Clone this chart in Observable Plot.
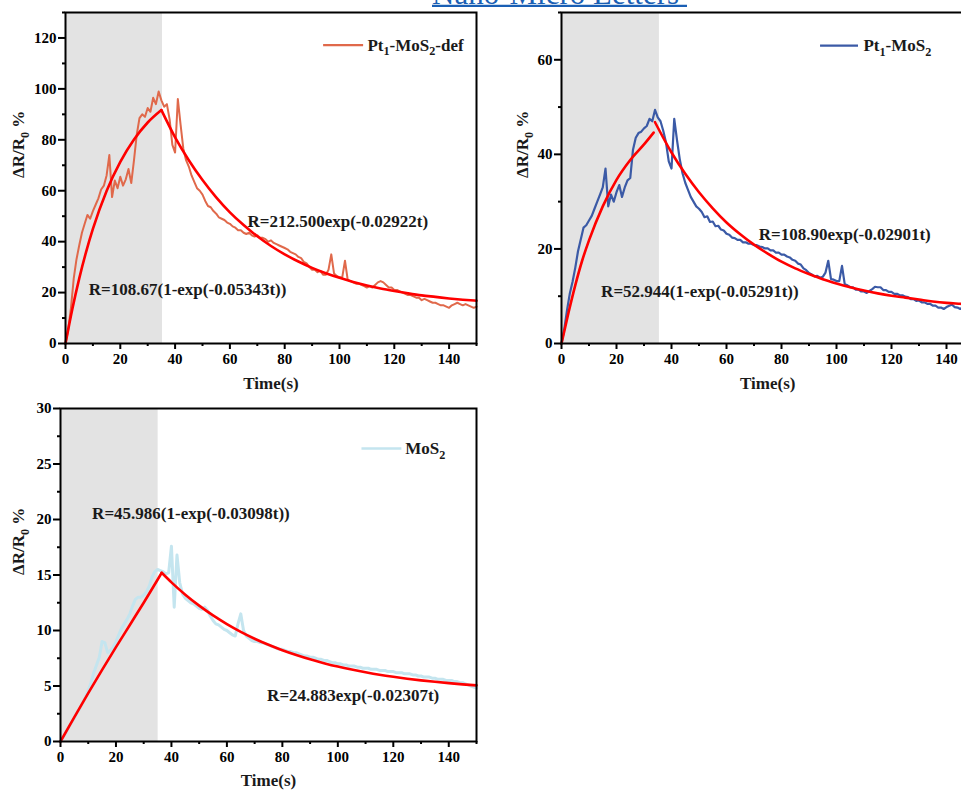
<!DOCTYPE html>
<html><head><meta charset="utf-8">
<script src="https://cdn.jsdelivr.net/npm/d3@7"></script>
<script src="https://cdn.jsdelivr.net/npm/@observablehq/plot@0.6"></script>
<style>
html,body{margin:0;padding:0;background:#fff;}
body{width:961px;height:793px;overflow:hidden;position:relative;}
.panel{position:absolute;}
.panel svg{max-width:none !important;}
#title{position:absolute;left:0;top:0;}
</style></head><body>
<div id="p1" class="panel" style="left:0;top:0;width:480px"></div>
<div id="p2" class="panel" style="left:480px;top:0;width:500px"></div>
<div id="p3" class="panel" style="left:0;top:396px;width:480px"></div>
<svg id="title" width="961" height="12">
  <text x="432" y="3.5" font-family="'Liberation Serif', serif" font-size="31" fill="#1a5fb4">Nano-Micro Letters</text>
  <line x1="432" x2="687" y1="5.8" y2="5.8" stroke="#1a5fb4" stroke-width="2.2"/>
</svg>
<script>
// ---------- data ----------
const seconds = d3.range(0, 151); // sampling times (s)

const xMajorTicks = [0, 20, 40, 60, 80, 100, 120, 140];
const xMinorTicks = [10, 30, 50, 70, 90, 110, 130, 150];

const yTicksDef = [0, 20, 40, 60, 80, 100, 120];
const yMinorDef = [10, 30, 50, 70, 90, 110, 130];
const yTicksPt = [0, 20, 40, 60];
const yMinorPt = [10, 30, 50, 70];
const yTicksMoS2 = [0, 5, 10, 15, 20, 25, 30];
const yMinorMoS2 = [2.5, 7.5, 12.5, 17.5, 22.5, 27.5];

const seriesNames = ["Pt_1-MoS_2-def", "Pt_1-MoS_2", "MoS_2"];
const lightOnEnd = [35.4, 35.6, 35.2];

// measured response, one value per second (0..150 s)
const pt1MoS2DefSignal = [
  0, 5.5, 14, 25.5, 33, 38.5, 43.5, 47, 50.5, 49, 52,
  54.5, 57, 60.5, 62, 66, 74, 57.5, 64, 61, 65.5,
  62, 64.5, 68.5, 63, 72, 82, 88.5, 90, 89, 92.5,
  91, 96.5, 94, 99, 95.5, 93, 94, 88, 78, 75,
  96, 86, 76.5, 72, 69.5, 66, 63.5, 61, 60, 58.5,
  56, 54, 53.5, 52, 51, 49.5, 49, 48.5, 47.5, 47,
  46, 45.5, 44.5, 44.5, 43.5, 43, 43.5, 42.5, 42, 42.5,
  41.5, 41.5, 41, 40, 40.5, 39.5, 39, 38.5, 38, 37.5,
  37, 36, 35.5, 35, 34, 33.5, 32, 31.5, 30, 29,
  29, 28, 28.5, 27, 27, 29, 35, 27.5, 26.5, 26,
  26, 32.5, 25, 24.5, 24, 23.5, 23.5, 23, 22.5, 22,
  22.5, 22, 23, 24, 24.5, 24, 23, 22, 22, 21,
  21, 20.5, 20, 19.5, 19, 19, 18.5, 18, 18, 17,
  17.5, 17, 16.5, 16, 16, 15.5, 15, 15, 14.5, 14,
  15, 15.5, 16, 15.5, 15, 15.5, 15, 14.5, 14, 14.5
];
const pt1MoS2Signal = [
  0, 3, 7, 10.5, 13, 16, 19.5, 22, 24.5, 25, 26,
  27, 28.5, 30, 31.5, 33, 37, 29, 31.5, 30, 32,
  33.5, 31, 33, 34.5, 35, 41, 43.5, 44.5, 44.8, 45.5,
  46, 47.5, 47, 49.4, 47.8, 47, 45, 42.5, 38.5, 37,
  47.5, 43, 39, 36, 34, 32.5, 31, 30, 29, 28.5,
  27.8, 26.7, 26.9, 25.7, 25.8, 24.8, 24.9, 24.1, 23.9, 23.2,
  23, 22.4, 22.3, 21.9, 21.9, 21.4, 21.4, 21.1, 21.1, 20.8,
  20.8, 20.5, 20.4, 20.1, 20.1, 19.7, 19.7, 19.2, 19.2, 18.8,
  18.8, 18.4, 18.2, 17.7, 17.5, 16.9, 16.7, 15.9, 15.5, 14.9,
  14.6, 14.2, 14.3, 13.9, 14.1, 15, 17.5, 13.6, 13.5, 13.2,
  13.2, 16.4, 12.5, 12.3, 11.9, 11.9, 11.4, 11.4, 11, 11,
  10.7, 11.1, 11.5, 12, 11.9, 11.9, 11.3, 11.3, 10.9, 10.9,
  10.5, 10.5, 10.2, 10.2, 9.9, 9.8, 9.4, 9.4, 9, 9.1,
  8.7, 8.7, 8.4, 8.4, 8, 8, 7.6, 7.6, 7.3, 7.7,
  8, 8.2, 7.7, 7.6, 7.3, 7.6, 7.2, 7.3, 7, 7.1
];
const mos2Signal = [
  0, 0.4, 0.8, 1.3, 1.7, 2.1, 2.6, 3.0, 3.5, 4.0, 4.6,
  5.3, 6.2, 6.9, 7.6, 9.0, 8.9, 8.0, 8.2, 8.5, 9.0,
  9.6, 10.2, 10.6, 11.0, 11.5, 12.2, 12.8, 13.0, 13.0, 13.2,
  13.5, 14.0, 14.8, 15.3, 15.5, 15.4, 15.3, 15.1, 15.2, 17.6,
  12.1, 16.8, 14.3, 13.3, 12.9, 12.7, 12.5, 12.4, 12.2, 12.0,
  11.9, 12.1, 11.8, 11.3, 10.9, 10.6, 10.5, 10.3, 10.1, 10.0,
  9.8, 9.6, 9.5, 10.6, 11.5, 10.0, 9.5, 9.3, 9.1, 9.0,
  9.0, 8.9, 8.9, 8.8, 8.7, 8.6, 8.5, 8.4, 8.3, 8.3,
  8.2, 8.1, 8.1, 8.0, 8.0, 7.9, 7.8, 7.7, 7.7, 7.6,
  7.6, 7.5, 7.4, 7.4, 7.3, 7.3, 7.2, 7.1, 7.1, 7.0,
  7.0, 6.9, 6.9, 6.8, 6.8, 6.8, 6.7, 6.7, 6.6, 6.6,
  6.6, 6.5, 6.5, 6.5, 6.4, 6.4, 6.4, 6.3, 6.3, 6.3,
  6.2, 6.2, 6.2, 6.1, 6.1, 6.1, 6.0, 6.0, 5.9, 5.9,
  5.8, 5.8, 5.8, 5.7, 5.7, 5.6, 5.6, 5.6, 5.5, 5.5,
  5.5, 5.4, 5.4, 5.3, 5.3, 5.2, 5.1, 5.0, 4.9, 4.8
];

// fitted curves
const fitRiseTimeDef = [0, 2.5, 5, 7.5, 10, 15, 20, 25, 30, 35];
const fitRiseDef = [0, 13.6, 25.5, 35.9, 45.0, 59.9, 71.3, 80.1, 86.8, 91.7];
const fitDecayTimeDef = [35, 40, 45, 50, 55, 60, 65, 70, 75, 80, 85, 90, 95, 100, 105, 110, 115, 120, 125, 130, 135, 140, 145, 150];
const fitDecayDef = [91.7, 81.0, 72.0, 64.2, 57.4, 51.5, 46.5, 42.1, 38.3, 35.0, 32.2, 29.7, 27.6, 25.8, 24.2, 22.8, 21.6, 20.6, 19.7, 18.9, 18.3, 17.7, 17.2, 16.8];

const fitRiseTimePt = [0, 2.5, 5, 7.5, 10, 15, 20, 25, 30, 33.5];
const fitRisePt = [0, 6.4, 12.3, 17.5, 21.8, 29.0, 34.6, 38.8, 42.1, 44.6];
const fitDecayTimePt = [34, 40, 45, 50, 55, 60, 65, 70, 75, 80, 85, 90, 95, 100, 105, 110, 115, 120, 125, 130, 135, 140, 145, 150];
const fitDecayPt = [46.8, 40.4, 35.9, 32.0, 28.6, 25.6, 23.1, 20.9, 19.0, 17.3, 15.9, 14.7, 13.6, 12.7, 11.9, 11.2, 10.6, 10.1, 9.7, 9.3, 8.9, 8.6, 8.4, 8.2];

const fitRiseTimeMoS2 = [0, 5, 10, 15, 20, 25, 30, 36.5];
const fitRiseMoS2 = [0, 2.2, 4.35, 6.45, 8.5, 10.5, 12.5, 15.2];
const fitDecayTimeMoS2 = [36.5, 40, 45, 50, 55, 60, 65, 70, 75, 80, 85, 90, 95, 100, 105, 110, 115, 120, 125, 130, 135, 140, 145, 150];
const fitDecayMoS2 = [15.2, 14.34, 13.23, 12.24, 11.36, 10.58, 9.88, 9.26, 8.71, 8.22, 7.79, 7.40, 7.06, 6.75, 6.48, 6.24, 6.02, 5.83, 5.66, 5.51, 5.38, 5.26, 5.15, 5.06];

const equationsDef = ["R=212.500exp(-0.02922t)", "R=108.67(1-exp(-0.05343t))"];
const equationsPt = ["R=108.90exp(-0.02901t)", "R=52.944(1-exp(-0.05291t))"];
const equationsMoS2 = ["R=45.986(1-exp(-0.03098t))", "R=24.883exp(-0.02307t)"];

const xLabel = "Time(s)";
const yLabel = "\u0394R/R_0 %";

// ---------- drawing ----------
const FONT = "'Liberation Serif', 'Times New Roman', serif";
const FIT = "#ff0000";

function applySubs(root) {
  root.querySelectorAll("text").forEach(t => {
    if (t.querySelector("tspan")) return;
    const s = t.textContent;
    if (!s.includes("_")) return;
    const fs = parseFloat(getComputedStyle(t).fontSize) || 17;
    const shift = fs * 0.28;
    while (t.firstChild) t.removeChild(t.firstChild);
    const parts = s.split(/_(\d)/);
    let down = false;
    parts.forEach((p, i) => {
      if (!p) return;
      const ts = document.createElementNS("http://www.w3.org/2000/svg", "tspan");
      ts.textContent = p;
      if (i % 2 === 1) {
        ts.setAttribute("font-size", (fs * 0.72).toFixed(1));
        ts.setAttribute("dy", shift.toFixed(1));
        down = true;
      } else if (down) {
        ts.setAttribute("dy", (-shift).toFixed(1));
        down = false;
      }
      t.appendChild(ts);
    });
  });
}

function panel(cfg) {
  const sig = seconds.map((t, i) => ({t, v: cfg.signal[i]}));
  const rise = cfg.riseT.map((t, i) => ({t, v: cfg.riseV[i]}));
  const decay = cfg.decayT.map((t, i) => ({t, v: cfg.decayV[i]}));
  const svg = Plot.plot({
    width: cfg.width, height: cfg.height,
    marginLeft: cfg.ml, marginRight: cfg.mr, marginTop: cfg.mt, marginBottom: cfg.mb,
    x: {domain: [0, 150], label: null},
    y: {domain: [0, cfg.yMax], label: null},
    style: {fontFamily: FONT, fontWeight: "bold", fontSize: "15px", color: "black", background: "transparent", overflow: "visible", maxWidth: "none"},
    marks: [
      Plot.rect([{a: 0, b: cfg.band}], {x1: "a", x2: "b", y1: 0, y2: cfg.yMax, fill: "#e3e3e3"}),
      Plot.line(sig, {x: "t", y: "v", stroke: cfg.color, strokeWidth: cfg.sw, strokeLinejoin: "round"}),
      Plot.line(rise, {x: "t", y: "v", stroke: FIT, strokeWidth: 2.6, curve: "monotone-x"}),
      Plot.line(decay, {x: "t", y: "v", stroke: FIT, strokeWidth: 2.6, curve: "monotone-x"}),
      Plot.text(cfg.eqs, {x: "x", y: "y", text: "label", textAnchor: "start", fontSize: 17, fill: "#1a1a1a"}),
      Plot.ruleY([cfg.legend], {y: "y", x1: "x1", x2: "x2", stroke: cfg.color, strokeWidth: cfg.legendSw}),
      Plot.text([cfg.legend], {x: "tx", y: "y", text: "name", textAnchor: "start", fontSize: 17, fill: "#1a1a1a"}),
      Plot.axisX({ticks: xMajorTicks, tickSize: 6, tickPadding: 4, strokeWidth: 2, label: null, fontSize: 15}),
      Plot.axisX({ticks: xMinorTicks, tickSize: 3, tickFormat: () => "", strokeWidth: 2, label: null}),
      Plot.axisY({ticks: cfg.yTicks, tickSize: 7, tickPadding: 2, strokeWidth: 2, label: null, fontSize: 15}),
      Plot.axisY({ticks: cfg.yMinor, tickSize: 3, tickFormat: () => "", strokeWidth: 2, label: null}),
      Plot.text([xLabel], {frameAnchor: "bottom", dy: cfg.xdy, fontSize: 17, fill: "#1a1a1a"}),
      Plot.text([yLabel], {frameAnchor: "left", dx: cfg.ydx, rotate: -90, fontSize: 17, fill: "#1a1a1a"}),
      Plot.frame({stroke: "black", strokeWidth: 2})
    ]
  });
  svg.style.maxWidth = "none";
  document.getElementById(cfg.id).appendChild(svg);
  applySubs(svg);
}

panel({
  id: "p1", width: 480, height: 400, ml: 65, mr: 4, mt: 12, mb: 57,
  yMax: 130, yTicks: yTicksDef, yMinor: yMinorDef,
  signal: pt1MoS2DefSignal, color: "#e0694b", sw: 2,
  riseT: fitRiseTimeDef, riseV: fitRiseDef, decayT: fitDecayTimeDef, decayV: fitDecayDef,
  band: lightOnEnd[0],
  eqs: [{x: 66.4, y: 47.8, label: equationsDef[0]}, {x: 8.5, y: 21, label: equationsDef[1]}],
  legend: {x1: 94.2, x2: 108.8, tx: 110.2, y: 117.2, name: seriesNames[0]}, legendSw: 2.2,
  xdy: 45, ydx: -47
});
panel({
  id: "p2", width: 500, height: 400, ml: 81, mr: 6.5, mt: 12, mb: 57,
  yMax: 70, yTicks: yTicksPt, yMinor: yMinorPt,
  signal: pt1MoS2Signal, color: "#3b5aa6", sw: 2.2,
  riseT: fitRiseTimePt, riseV: fitRisePt, decayT: fitDecayTimePt, decayV: fitDecayPt,
  band: lightOnEnd[1],
  eqs: [{x: 71.7, y: 23.1, label: equationsPt[0]}, {x: 14.4, y: 11.0, label: equationsPt[1]}],
  legend: {x1: 94.2, x2: 108, tx: 109.8, y: 63, name: seriesNames[1]}, legendSw: 2.2,
  xdy: 45, ydx: -39
});
panel({
  id: "p3", width: 480, height: 397, ml: 60, mr: 4, mt: 12, mb: 52,
  yMax: 30, yTicks: yTicksMoS2, yMinor: yMinorMoS2,
  signal: mos2Signal, color: "#c4e5ef", sw: 3,
  riseT: fitRiseTimeMoS2, riseV: fitRiseMoS2, decayT: fitDecayTimeMoS2, decayV: fitDecayMoS2,
  band: lightOnEnd[2],
  eqs: [{x: 11.4, y: 20.5, label: equationsMoS2[0]}, {x: 74.5, y: 4.15, label: equationsMoS2[1]}],
  legend: {x1: 108.7, x2: 123.1, tx: 124.3, y: 26.4, name: seriesNames[2]}, legendSw: 2.5,
  xdy: 44, ydx: -42
});
</script>
</body></html>
